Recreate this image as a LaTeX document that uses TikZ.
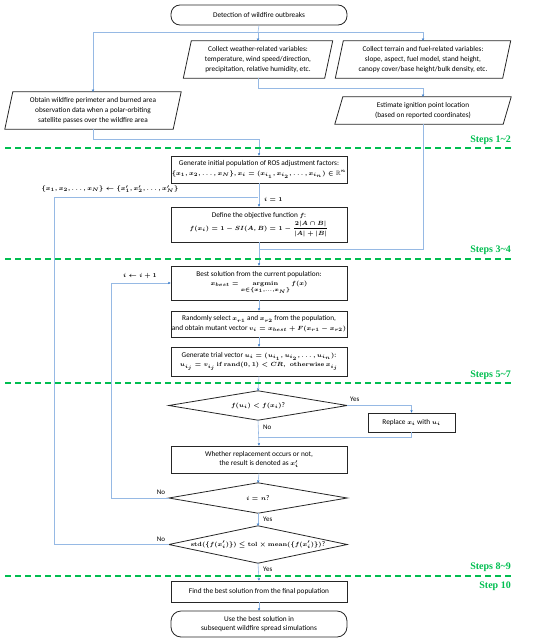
\documentclass[tikz,border=0pt]{standalone}
\usepackage{amsmath,amssymb,bm}
\usepackage[no-math]{fontspec}
\setmainfont{Carlito}
\newfontfamily\stepfont{Liberation Serif}
\usetikzlibrary{arrows.meta,calc}
\definecolor{lineblue}{RGB}{150,185,228}
\definecolor{tipblue}{RGB}{46,117,200}
\definecolor{stepgreen}{RGB}{0,190,80}
\newcommand\bmth[1]{{\fontsize{6.3}{8}\selectfont\boldmath$#1$}}
\begin{document}
\begin{tikzpicture}[x=1pt,y=-1pt,
  every node/.style={font=\fontsize{7.3}{9.6}\selectfont, align=center, inner sep=0pt},
  box/.style={draw=black!85, line width=0.8pt, minimum width=176pt},
  term/.style={box, rounded corners=9pt},
  conn/.style={draw=lineblue, line width=0.6pt},
  arr/.style={conn, -{Stealth[length=2.6pt,width=2.4pt,color=tipblue]}},
  lbl/.style={font=\fontsize{7}{8}\selectfont},
  stepline/.style={draw=stepgreen, line width=1.3pt, dash pattern=on 6pt off 4pt},
  steplbl/.style={font=\stepfont\bfseries\fontsize{10}{11}\selectfont, text=stepgreen, anchor=east}
]
\useasboundingbox (0,0) rectangle (550,642);
\newcommand\para[1]{\draw[black!85, line width=0.8pt] ($(#1.north west)+(4,0)$) -- ($(#1.north east)+(4,0)$) -- ($(#1.south east)+(-4,0)$) -- ($(#1.south west)+(-4,0)$) -- cycle;}
\newcommand\diam[1]{\draw[black!85, line width=0.8pt] (#1.west) -- (#1.north) -- (#1.east) -- (#1.south) -- cycle;}

% nodes
\node[term, minimum height=20pt] (start) at (259,15) {Detection of wildfire outbreaks};
\node[minimum width=141pt, minimum height=37pt] (weather) at (258,59.5) {Collect weather-related variables:\\ temperature, wind speed/direction,\\ precipitation, relative humidity, etc.};
\para{weather}
\node[minimum width=167pt, minimum height=37pt] (terrain) at (423,59.5) {Collect terrain and fuel-related variables:\\ slope, aspect, fuel model, stand height,\\ canopy cover/base height/bulk density, etc.};
\para{terrain}
\node[minimum width=168pt, minimum height=37pt] (obtain) at (93,110.5) {Obtain wildfire perimeter and burned area\\ observation data when a polar-orbiting\\ satellite passes over the wildfire area};
\para{obtain}
\node[minimum width=168pt, minimum height=27pt] (estimate) at (423,110.5) {Estimate ignition point location\\ (based on reported coordinates)};
\para{estimate}

\node[box, minimum height=27pt] (gen) at (259,169.5) {Generate initial population of ROS adjustment factors:\\ \bmth{\{x_1,x_2,\dots,x_N\}, x_i=(x_{i_1},x_{i_2},\dots,x_{i_n})\in\mathbb{R}^n}};
\node[box, minimum height=35pt] (obj) at (259,224.5) {Define the objective function \bmth{f}:\\[1pt] \bmth{f(x_i)=1-SI(A,B)=1-\dfrac{2|A\cap B|}{|A|+|B|}}};
\node[box, minimum height=34pt] (best) at (259,283) {Best solution from the current population:\\[-1pt] \bmth{x_{best}=\operatorname*{\mathbf{argmin}}\limits_{x\in\{x_1,\dots,x_N\}} f(x)}};
\node[box, minimum height=26pt] (rand) at (259,324) {Randomly select \bmth{x_{r1}} and \bmth{x_{r2}} from the population,\\ and obtain mutant vector \bmth{v_i=x_{best}+F(x_{r1}-x_{r2})}};
\node[box, minimum height=29pt] (trial) at (259,361.5) {Generate trial vector \bmth{u_i=(u_{i_1},u_{i_2},\dots,u_{i_n})}:\\ \bmth{u_{i_j}=v_{i_j}\ \mathbf{if}\ \mathbf{rand}(0,1)<CR,\ \ \mathbf{otherwise}\ x_{i_j}}};
\node[minimum width=178pt, minimum height=29pt] (d1) at (258,405.5) {\bmth{f(u_i)<f(x_i)}?};
\diam{d1}
\node[box, minimum width=87pt, minimum height=19pt] (repl) at (411.5,422.5) {Replace \bmth{x_i} with \bmth{u_i}};
\node[box, minimum height=27pt] (whether) at (259,459.5) {Whether replacement occurs or not,\\ the result is denoted as \bmth{x_i'}};
\node[minimum width=178pt, minimum height=30pt] (d2) at (258,498) {\bmth{i=n}?};
\diam{d2}
\node[minimum width=178pt, minimum height=37pt] (d3) at (258,544.5) {\bmth{\mathbf{std}(\{f(x_i')\})\le\mathbf{tol}\times\mathbf{mean}(\{f(x_i')\})}?};
\diam{d3}
\node[box, minimum height=21pt] (find) at (259,591.5) {Find the best solution from the final population};
\node[term, minimum height=26pt, rounded corners=10pt] (use) at (259,624) {Use the best solution in\\ subsequent wildfire spread simulations};

% connectors
\coordinate (br) at (258,32);
\draw[conn] (start.south) -- (br);
\draw[arr] (br) -| (obtain.north);
\draw[arr] (br) -| (terrain.north);
\draw[arr] (br) -- (weather.north);
\coordinate (m2) at (258,88);
\draw[arr] (weather.south) -- (m2) -| (estimate.north);
\coordinate (m3) at (93,139);
\draw[arr] (obtain.south) -- (m3) -| (gen.north);
\draw[arr] (gen.south) -- (obj.north);
\coordinate (j1) at (258,197);
\coordinate (l3) at (54,544.5);
\draw[conn] (d3.west) -- (l3) |- (j1);
\node[lbl] (initlbl) at (110,189) {\bmth{\{x_1,x_2,\dots,x_N\}\leftarrow\{x_1',x_2',\dots,x_N'\}}};
\node[lbl, anchor=west] (i1) at (264,199) {\bmth{i=1}};
\coordinate (m4) at (423,249);
\draw[conn] (estimate.south) -- (m4) -- (m4 -| obj.south);
\draw[arr] (obj.south) -- (best.north);
\draw[arr] (best.south) -- (rand.north);
\draw[arr] (rand.south) -- (trial.north);
\draw[arr] (trial.south) -- (d1.north);
\draw[arr] (d1.east) -| (repl.north);
\node[lbl, anchor=south west] (yes1) at (350,402) {Yes};
\draw[arr] (d1.south) -- (whether.north);
\node[lbl, anchor=west] (no1) at (263,427) {No};
\coordinate (m5) at (411.5,437);
\draw[conn] (repl.south) -- (m5) -- (m5 -| d1.south);
\draw[arr] (whether.south) -- (d2.north);
\coordinate (l2) at (111,498);
\draw[arr] (d2.west) -- (l2) |- (best.west);
\node[lbl] (no2) at (161,492) {No};
\node[lbl] (inc) at (140,276) {\bmth{i\leftarrow i+1}};
\draw[arr] (d2.south) -- (d3.north);
\node[lbl, anchor=west] (yes2) at (263,519) {Yes};
\node[lbl] (no3) at (161,539) {No};
\draw[arr] (d3.south) -- (find.north);
\node[lbl, anchor=west] (yes3) at (263,569.5) {Yes};
\draw[arr] (find.south) -- (use.north);

% step separators
\draw[stepline] (5,148) -- (513,148);
\draw[stepline] (5,259) -- (513,259);
\draw[stepline] (5,383) -- (513,383);
\draw[stepline] (5,576) -- (513,576);
\node[steplbl] (s12) at (511,140) {Steps 1\textasciitilde2};
\node[steplbl] (s34) at (511,250) {Steps 3\textasciitilde4};
\node[steplbl] (s57) at (511,375) {Steps 5\textasciitilde7};
\node[steplbl] (s89) at (511,567) {Steps 8\textasciitilde9};
\node[steplbl] (s10) at (511,586) {Step 10};
\end{tikzpicture}
\end{document}
